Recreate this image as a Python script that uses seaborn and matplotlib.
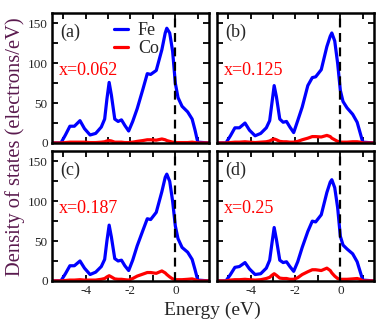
import numpy as np
import pandas as pd
import seaborn as sns
import matplotlib.pyplot as plt
from matplotlib.ticker import MultipleLocator

# Energy grid (eV), shared by all panels
energy = [-5.5, -5.1, -4.9, -4.7, -4.5, -4.25, -4.05, -3.8, -3.55, -3.3,
          -3.15, -3.05, -2.95, -2.85, -2.7, -2.55, -2.4, -2.25, -2.08, -1.9,
          -1.7, -1.45, -1.25, -1.1, -0.85, -0.6, -0.45, -0.38, -0.25, -0.12,
          0.0, 0.12, 0.3, 0.55, 0.75, 0.88, 1.0, 1.5]

# Fe DOS for each concentration
fe_a = [0, 0, 10, 21, 21, 28, 18, 10, 12, 20,
        30, 55, 76, 60, 30, 27, 29, 22, 15, 27,
        43, 67, 87, 86, 91, 117, 138, 144, 138, 115,
        75, 57, 46, 39, 30, 16, 1, 0]
fe_b = [0, 0, 9, 19, 19, 25, 16, 9, 12, 19,
        28, 50, 72, 58, 30, 26, 27, 20, 13, 28,
        45, 72, 82, 83, 92, 121, 134, 138, 128, 100,
        66, 52, 44, 36, 26, 13, 1, 0]
fe_c = [0, 0, 9, 19, 19, 25, 16, 8, 11, 18,
        27, 50, 70, 55, 28, 25, 26, 19, 13, 26,
        44, 63, 78, 77, 86, 112, 130, 134, 125, 100,
        69, 53, 42, 36, 27, 14, 1, 0]
fe_d = [0, 0, 8, 17, 18, 23, 15, 8, 9, 16,
        26, 47, 67, 52, 26, 23, 24, 18, 12, 24,
        42, 62, 75, 74, 83, 111, 124, 127, 117, 92,
        56, 45, 40, 34, 24, 12, 1, 0]

# Co DOS for each concentration
co_a = [0, 0, 0.5, 1, 1, 1, 1, 0.5, 0.5, 1,
        1.5, 2.5, 3, 2.5, 1, 1, 1, 0.5, 0.5, 1,
        2, 3, 4, 4, 3.5, 5, 4, 3, 2, 1,
        0.5, 0.5, 0.5, 0.5, 1, 0.5, 0, 0]
co_b = [0, 0, 0.5, 1, 1, 1.5, 1, 0.5, 1, 1.5,
        2.5, 4, 5, 4, 2, 1.5, 1.5, 1, 1, 2,
        4, 6, 8, 8, 7.5, 9.5, 8, 6, 4, 2,
        1, 1, 1, 1.5, 1.5, 1, 0, 0]
co_c = [0, 0, 0.5, 1, 1, 1.5, 1, 1, 1, 2,
        3, 5, 6.5, 5, 2.5, 2, 2, 1.5, 1, 3,
        6, 8.5, 10.5, 10.5, 9.5, 12.5, 10, 8, 5, 2.5,
        1.5, 1.5, 1.5, 2, 2.5, 1.5, 0, 0]
co_d = [0, 0, 1, 1.5, 1.5, 2, 1.5, 1, 1.5, 3,
        4.5, 7, 9, 7, 3.5, 3, 3, 2, 2, 4,
        8, 11.5, 14, 14, 13, 16, 13, 10, 6, 3,
        2, 2, 2, 2.5, 3, 2, 0, 0]

panel_tags = ['(a)', '(b)', '(c)', '(d)']
conc_labels = ['x=0.062', 'x=0.125', 'x=0.187', 'x=0.25']
fe_all = [fe_a, fe_b, fe_c, fe_d]
co_all = [co_a, co_b, co_c, co_d]

sns.set_style('ticks')
plt.rcParams['font.family'] = ['Liberation Serif', 'DejaVu Serif']
plt.rcParams['axes.unicode_minus'] = False

fig, axes = plt.subplots(2, 2, figsize=(3.82, 3.27), dpi=100, sharex=True, sharey=True)
fig.subplots_adjust(left=0.136, right=0.979, top=0.960, bottom=0.141,
                    wspace=0.051, hspace=0.062)

for i, ax in enumerate(axes.flat):
    df = pd.DataFrame({'E': energy, 'Fe': fe_all[i], 'Co': co_all[i]})
    sns.lineplot(data=df, x='E', y='Fe', ax=ax, color='#0000ff', lw=2.3, label='Fe')
    sns.lineplot(data=df, x='E', y='Co', ax=ax, color='#ff0000', lw=2.3, label='Co')
    ax.axvline(0, color='black', lw=1.6, ls=(0, (4, 2.5)))

    ax.set_xlim(-5.5, 1.5)
    ax.set_ylim(0, 163)
    ax.xaxis.set_major_locator(MultipleLocator(2))
    ax.xaxis.set_minor_locator(MultipleLocator(1))
    ax.yaxis.set_major_locator(MultipleLocator(50))
    ax.yaxis.set_minor_locator(MultipleLocator(25))
    ax.tick_params(which='both', direction='in', top=True, right=True,
                   length=4, width=1.3, labelsize=9.5, pad=3, color='black')
    for s in ax.spines.values():
        s.set_linewidth(1.8)
        s.set_color('black')
    ax.set_xlabel('')
    ax.set_ylabel('')

    ax.text(0.05, 0.85, panel_tags[i], transform=ax.transAxes,
            fontsize=13, va='center', ha='left')
    ax.text(0.045, 0.555, conc_labels[i], transform=ax.transAxes,
            fontsize=13, color='#ff0000', va='center', ha='left')

    if i == 0:
        ax.legend(loc='upper left', bbox_to_anchor=(0.34, 1.0), frameon=False,
                  fontsize=13, handlelength=0.75, handletextpad=0.55,
                  labelspacing=0.05, borderaxespad=0.1)
    else:
        ax.get_legend().remove()

fig.text(0.039, 0.55, 'Density of states (electrons/eV)', rotation=90,
         va='center', ha='center', fontsize=14.8, color='#5a1a4e')
fig.text(0.557, 0.052, 'Energy (eV)', va='center', ha='center', fontsize=14)

fig.savefig('out.png', dpi=100)
